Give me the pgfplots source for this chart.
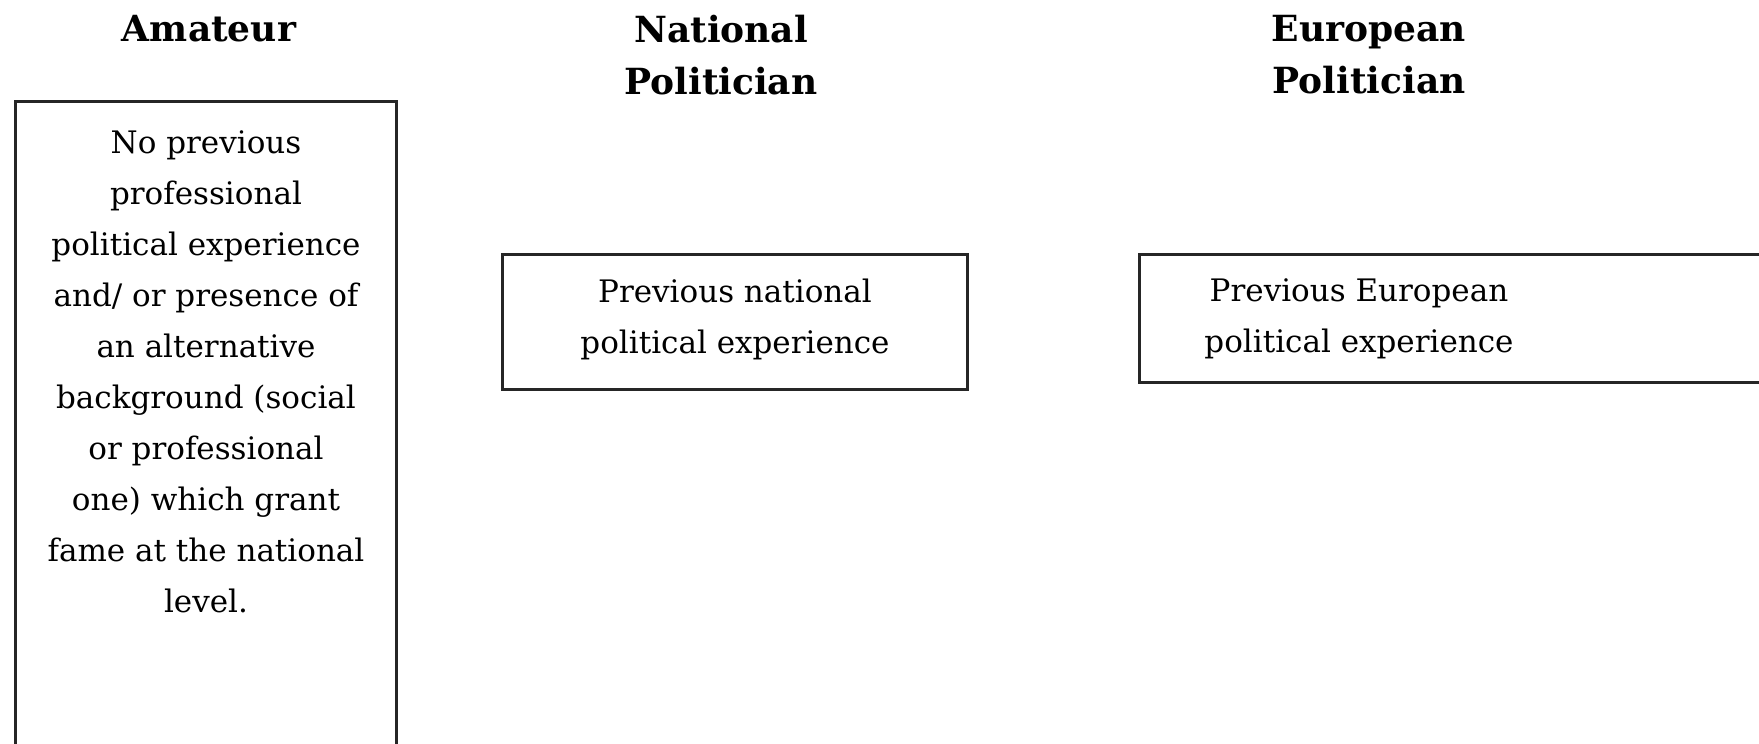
\documentclass[border=0pt]{standalone}
\usepackage{pgfplots}
\pgfplotsset{compat=1.18}
\usepackage{fontspec}
\setmainfont{DejaVu Serif}
\begin{document}
\begin{tikzpicture}
\begin{axis}[hide axis, scale only axis, width=879.5bp, height=372bp,
  xmin=0, xmax=1759, ymin=0, ymax=744, y dir=reverse, clip=false]
% boxes
\draw[line width=1.5bp, color=black!85] (axis cs:15,102) rectangle (axis cs:396,770);
\draw[line width=1.5bp, color=black!85] (axis cs:502,254) rectangle (axis cs:967,389);
\draw[line width=1.5bp, color=black!85] (axis cs:1139,254) rectangle (axis cs:1790,382);
% titles
\node[align=center, font=\fontsize{18bp}{26bp}\selectfont\bfseries] at (axis cs:209,29) {Amateur};
\node[align=center, font=\fontsize{18bp}{26bp}\selectfont\bfseries] at (axis cs:721,55) {National\\Politician};
\node[align=center, font=\fontsize{18bp}{26bp}\selectfont\bfseries] at (axis cs:1369,55) {European\\Politician};
% box texts
\node[align=center, font=\fontsize{15.5bp}{25.5bp}\selectfont] at (axis cs:206,372)
 {No previous\\professional\\political experience\\and/ or presence of\\an alternative\\background (social\\or professional\\one) which grant\\fame at the national\\level.};
\node[align=center, font=\fontsize{15.5bp}{25.5bp}\selectfont] at (axis cs:735,319)
 {Previous national\\political experience};
\node[align=center, font=\fontsize{15.5bp}{25.5bp}\selectfont] at (axis cs:1359,319)
 {Previous European\\political experience};
\end{axis}
\pgfresetboundingbox
\path[use as bounding box] (current axis.south west) rectangle (current axis.north east);
\end{tikzpicture}
\end{document}
